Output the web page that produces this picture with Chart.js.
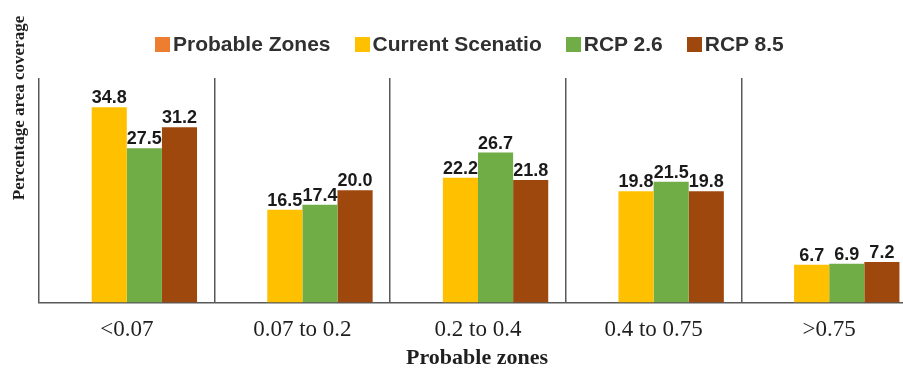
<!DOCTYPE html>
<html>
<head>
<meta charset="utf-8">
<script src="https://cdn.jsdelivr.net/npm/chart.js@4"></script>
<style>
  html, body { margin: 0; padding: 0; background: #fff; overflow: hidden; }
  #wrap { position: relative; width: 920px; height: 371px; }
  #legend {
    position: absolute; left: 155px; top: 33px;
    display: flex; align-items: center;
    font: bold 21px "Liberation Sans", Arial, sans-serif; color: #303030;
    line-height: 22px; white-space: nowrap;
  }
  #legend .item { display: flex; align-items: center; margin-right: 24px; }
  #legend .box { width: 15px; height: 15px; margin-right: 3px; }
</style>
</head>
<body>
<div id="wrap">
  <canvas id="zonesChart" width="920" height="371"></canvas>
  <div id="legend"></div>
</div>
<script>
// ---- data ----
const categories = ['<0.07', '0.07 to 0.2', '0.2 to 0.4', '0.4 to 0.75', '>0.75'];
const seriesNames = ['Probable Zones', 'Current Scenatio', 'RCP 2.6', 'RCP 8.5'];
const probableZones = [null, null, null, null, null];
const currentScenario = [34.8, 16.5, 22.2, 19.8, 6.7];
const rcp26 = [27.5, 17.4, 26.7, 21.5, 6.9];
const rcp85 = [31.2, 20.0, 21.8, 19.8, 7.2];
const seriesColors = ['#ED7D31', '#FFC000', '#70AD47', '#9E480E'];

const SERIF = '"Liberation Serif", "Times New Roman", serif';
const SANS = '"Liberation Sans", Arial, sans-serif';

// value labels above each bar
const valueLabels = {
  id: 'valueLabels',
  afterDatasetsDraw(chart) {
    const ctx = chart.ctx;
    ctx.save();
    ctx.font = 'bold 18px ' + SANS;
    ctx.fillStyle = '#1a1a1a';
    ctx.textAlign = 'center';
    ctx.textBaseline = 'alphabetic';
    chart.data.datasets.forEach((ds, di) => {
      const meta = chart.getDatasetMeta(di);
      meta.data.forEach((bar, i) => {
        const v = ds.data[i];
        if (v == null) return;
        ctx.fillText(v.toFixed(1), bar.x, bar.y - 4);
      });
    });
    ctx.restore();
  }
};

// axis titles: y title rotated high on the left, x title under the tick row
const axisTitles = {
  id: 'axisTitles',
  afterDraw(chart) {
    const ctx = chart.ctx;
    ctx.save();
    ctx.fillStyle = '#1f1f1f';
    ctx.textAlign = 'center';
    ctx.textBaseline = 'middle';

    ctx.font = 'bold 22px ' + SERIF;
    ctx.fillText('Probable zones', 477, 358);

    ctx.translate(20, 108);
    ctx.rotate(-Math.PI / 2);
    ctx.font = 'bold 17px ' + SERIF;
    ctx.fillText('Percentage area coverage', 0, 0);
    ctx.restore();
  }
};

const allSeries = [probableZones, currentScenario, rcp26, rcp85];

const chart = new Chart(document.getElementById('zonesChart'), {
  type: 'bar',
  data: {
    labels: categories,
    datasets: allSeries.map((values, i) => ({
      label: seriesNames[i],
      data: values,
      backgroundColor: seriesColors[i],
      borderWidth: 0,
      categoryPercentage: 0.8,
      barPercentage: 1.0
    }))
  },
  options: {
    responsive: false,
    animation: false,
    layout: { padding: { left: 39, right: 3, top: 78, bottom: 13 } },
    plugins: {
      legend: { display: false },
      tooltip: { enabled: false }
    },
    scales: {
      x: {
        grid: { offset: true, drawTicks: false, color: '#595959', lineWidth: 1.5 },
        border: { display: true, color: '#595959', width: 1.5 },
        ticks: { color: '#1f1f1f', padding: 14, font: { family: SERIF, size: 23 } }
      },
      y: { display: false, min: 0, max: 40 }
    }
  },
  plugins: [valueLabels, axisTitles]
});

// legend built as html so box/text spacing stays tight
const legendEl = document.getElementById('legend');
seriesNames.forEach((name, i) => {
  const item = document.createElement('div');
  item.className = 'item';
  const box = document.createElement('span');
  box.className = 'box';
  box.style.background = seriesColors[i];
  const txt = document.createElement('span');
  txt.textContent = name;
  item.appendChild(box);
  item.appendChild(txt);
  legendEl.appendChild(item);
});
</script>
</body>
</html>
